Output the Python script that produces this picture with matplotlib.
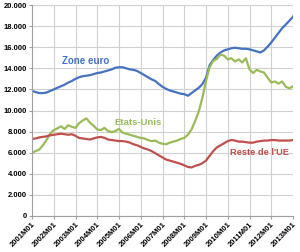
import numpy as np
import matplotlib.pyplot as plt
from matplotlib.ticker import FuncFormatter

# valeurs bimestrielles, 2001M01 -> 2013M01
mois = np.arange(0, 145, 2)

zone_euro = [11850, 11750, 11650, 11650, 11700, 11850, 12000, 12150, 12300, 12450,
             12650, 12800, 13000, 13150, 13250, 13300, 13350, 13450, 13550, 13600,
             13700, 13800, 13900, 14050, 14100, 14100, 14000, 13900, 13850, 13750,
             13550, 13350, 13150, 12950, 12800, 12500, 12250, 12050, 11900, 11800,
             11700, 11600, 11550, 11400, 11650, 11900, 12150, 12500, 13100, 14300,
             14800, 15200, 15500, 15700, 15800, 15900, 15950, 15900, 15850, 15850,
             15800, 15700, 15600, 15500, 15700, 16050, 16450, 16900, 17350, 17800,
             18150, 18500, 18900]

etats_unis = [6000, 6150, 6300, 6700, 7200, 7800, 8150, 8300, 8500, 8250,
              8600, 8450, 8350, 8800, 9050, 9250, 8850, 8550, 8200, 8150,
              8350, 8050, 7950, 8050, 8250, 7900, 7800, 7700, 7600, 7500,
              7400, 7350, 7200, 7100, 7150, 6950, 6850, 6800, 6950, 7050,
              7150, 7300, 7400, 7700, 8200, 9000, 9900, 11200, 12800, 14100,
              14700, 14900, 15300, 15200, 14850, 14950, 14650, 14850, 14550, 14950,
              13900, 13550, 13850, 13700, 13600, 13100, 12650, 12750, 12550, 12750,
              12250, 12100, 12300]

reste_ue = [7300, 7350, 7450, 7500, 7550, 7650, 7700, 7750, 7800, 7750,
            7700, 7750, 7600, 7400, 7350, 7300, 7250, 7350, 7450, 7500,
            7400, 7250, 7200, 7150, 7100, 7100, 7050, 6950, 6800, 6700,
            6550, 6400, 6300, 6150, 5950, 5750, 5550, 5350, 5250, 5150,
            5050, 4950, 4800, 4650, 4600, 4750, 4850, 5000, 5250, 5700,
            6150, 6500, 6700, 6900, 7100, 7200, 7150, 7050, 7050, 7000,
            6950, 6950, 7050, 7100, 7150, 7150, 7200, 7200, 7150, 7150,
            7150, 7150, 7200]

annees = [f"{a}M01" for a in range(2001, 2014)]

bleu = '#4472c0'
vert = '#9bbb59'
rouge = '#c0504d'

plt.rcParams['font.family'] = ['Liberation Sans', 'DejaVu Sans']

fig = plt.figure(figsize=(3.0, 2.52), dpi=100)
ax = fig.add_axes([32/300, 1 - 216/252, 261/300, 211/252])

ax.plot(mois, zone_euro, color=bleu, lw=1.6)
ax.plot(mois, etats_unis, color=vert, lw=1.6)
ax.plot(mois, reste_ue, color=rouge, lw=1.6)

ax.set_xlim(0, 144)
ax.set_ylim(0, 20000)
ax.set_xticks(np.arange(0, 145, 12))
ax.set_xticklabels(annees, rotation=45, ha='right', rotation_mode='anchor',
                   fontsize=5.5, fontweight='bold')
ax.set_yticks(np.arange(0, 20001, 2000))
ax.yaxis.set_major_formatter(FuncFormatter(lambda v, p: f"{v:,.0f}".replace(",", ".")))
for t in ax.get_yticklabels():
    t.set_fontsize(5.5)
    t.set_fontweight('bold')

ax.grid(True, color='#d0d0d0', lw=0.8)
ax.set_axisbelow(True)
for s in ['top', 'right']:
    ax.spines[s].set_visible(False)
for s in ['left', 'bottom']:
    ax.spines[s].set_color('#a0a0a0')
    ax.spines[s].set_linewidth(0.8)
ax.tick_params(axis='both', length=2, color='#a0a0a0', pad=1.5)

ax.text(16.5, 14700, 'Zone euro', color=bleu, fontsize=7, fontweight='bold', va='center')
ax.text(45.5, 8850, 'Etats-Unis', color=vert, fontsize=6.8, fontweight='bold', va='center')
ax.text(109, 6000, "Reste de l'UE", color=rouge, fontsize=6.7, fontweight='bold', va='center')

fig.savefig('out.png', dpi=100)
